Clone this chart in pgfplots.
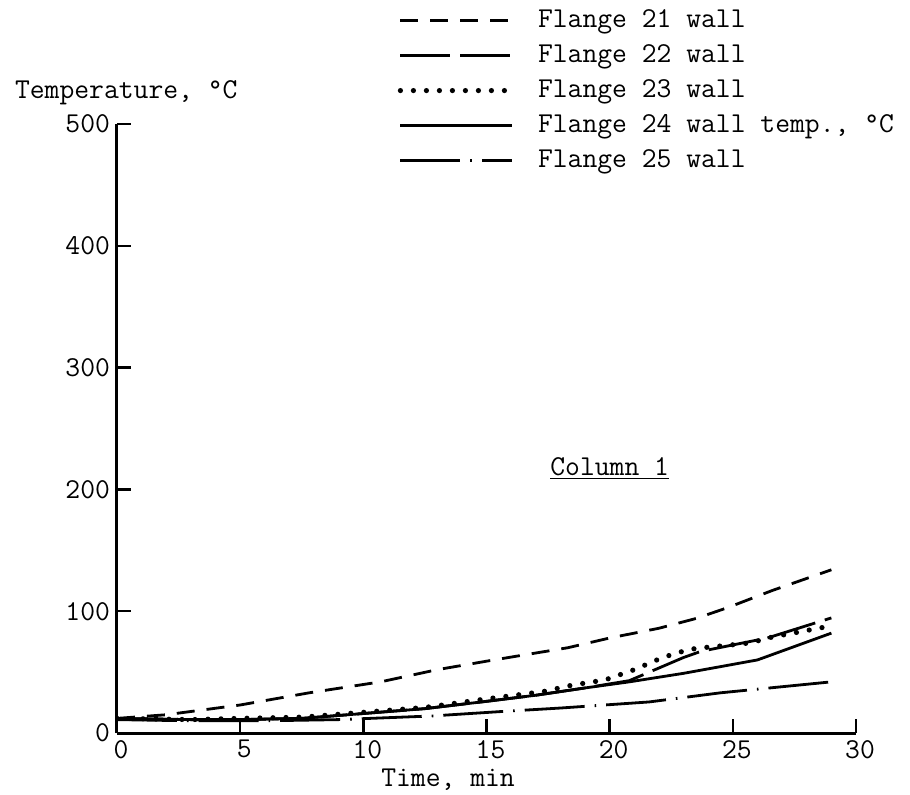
\documentclass[border=0pt]{standalone}
\usepackage{pgfplots}
\pgfplotsset{compat=1.18}
\newcommand{\tf}{\fontsize{14.4}{17}\selectfont\ttfamily}
\begin{document}
\begin{tikzpicture}
\useasboundingbox (-58.5pt,-30.5pt) rectangle (396.5pt,366.5pt);
\begin{axis}[
 at={(0pt,0pt)}, anchor=south west, scale only axis,
 width=369.5pt, height=304.5pt,
 xmin=0, xmax=30, ymin=0, ymax=500,
 axis x line=bottom, axis y line=left,
 axis line style={-, line width=1.5pt},
 xtick={0,5,...,30}, ytick={0,100,...,500},
 tick align=inside, major tick length=7pt,
 tick style={line width=1.2pt, black},
 /pgf/number format/assume math mode=true,
 tick label style={font=\tf},
 xticklabel style={xshift=2pt},
 xlabel={Time, min}, ylabel={Temperature, °C},
 every axis x label/.style={at={(rel axis cs:0.448,0)}, anchor=center, yshift=-23.5pt, font=\tf},
 every axis y label/.style={at={(rel axis cs:0,1)}, anchor=west, xshift=-54.5pt, yshift=15.5pt, font=\tf},
 legend cell align=left,
 legend style={at={(rel axis cs:0.380,1.192)}, anchor=north west, draw=none, fill=none,
   inner sep=0pt, outer sep=0pt, row sep=4pt, column sep=11.5pt, font=\tf,
   nodes={inner sep=0pt, text height=10pt, text depth=3.5pt}},
 legend image code/.code={\draw[#1] (0pt,0pt) -- (56pt,0pt);},
 every axis plot/.append style={black, line width=1.4pt},
]
% Flange 21 (short dashes)
\addplot[dash pattern=on 9pt off 6pt] coordinates {
 (0,12) (2,15) (5,23) (7.8,33) (10.7,42) (13,52) (15.3,60) (18.3,70) (20,78) (22,86)
 (23.5,94) (24.8,103) (26.6,117) (29,134)};
\addlegendentry{Flange 21 wall}
% Flange 22 (long dashes)
\addplot[dash pattern=on 25pt off 5pt] coordinates {
 (0,12) (3,11) (5,11) (7.5,12) (10,16) (12.5,20) (15,26) (17,31) (19,37) (20.8,43)
 (23,62) (23.7,67) (26.4,78) (29,94.5)};
\addlegendentry{Flange 22 wall}
% Flange 23 (dotted)
\addplot[line width=2.6pt, line cap=round, dash pattern=on 0pt off 6.5pt] coordinates {
 (0,12) (3,11) (5,12) (7.5,13) (10,17) (12.5,21) (15,28) (17.3,34) (18.5,39.4) (19.8,43.5)
 (21,52) (22,60.7) (22.7,65.7) (23.5,69.5) (24.8,72) (25.7,74) (26.6,78.8) (27.7,83) (29,88)};
\addlegendentry{Flange 23 wall}
% Flange 24 (solid)
\addplot[solid] coordinates {
 (0,12) (3,11) (5,11) (7.5,12) (10,16) (12.5,20) (15,26) (17,31) (19,37) (20.8,42)
 (23,49) (26,60) (29,82)};
\addlegendentry{Flange 24 wall temp., °C}
% Flange 25 (dash-dot)
\addplot[dash pattern=on 30pt off 5pt on 0.8pt off 5pt] coordinates {
 (0,11) (3,10) (6,10) (9,11) (12.8,14) (15.5,17.5) (18,20.5) (21.6,25.5) (24.5,33) (29,42)};
\addlegendentry{Flange 25 wall}
\node[font=\tf] at (axis cs:20,217) {\underline{Column 1}};
\end{axis}
\end{tikzpicture}
\end{document}
